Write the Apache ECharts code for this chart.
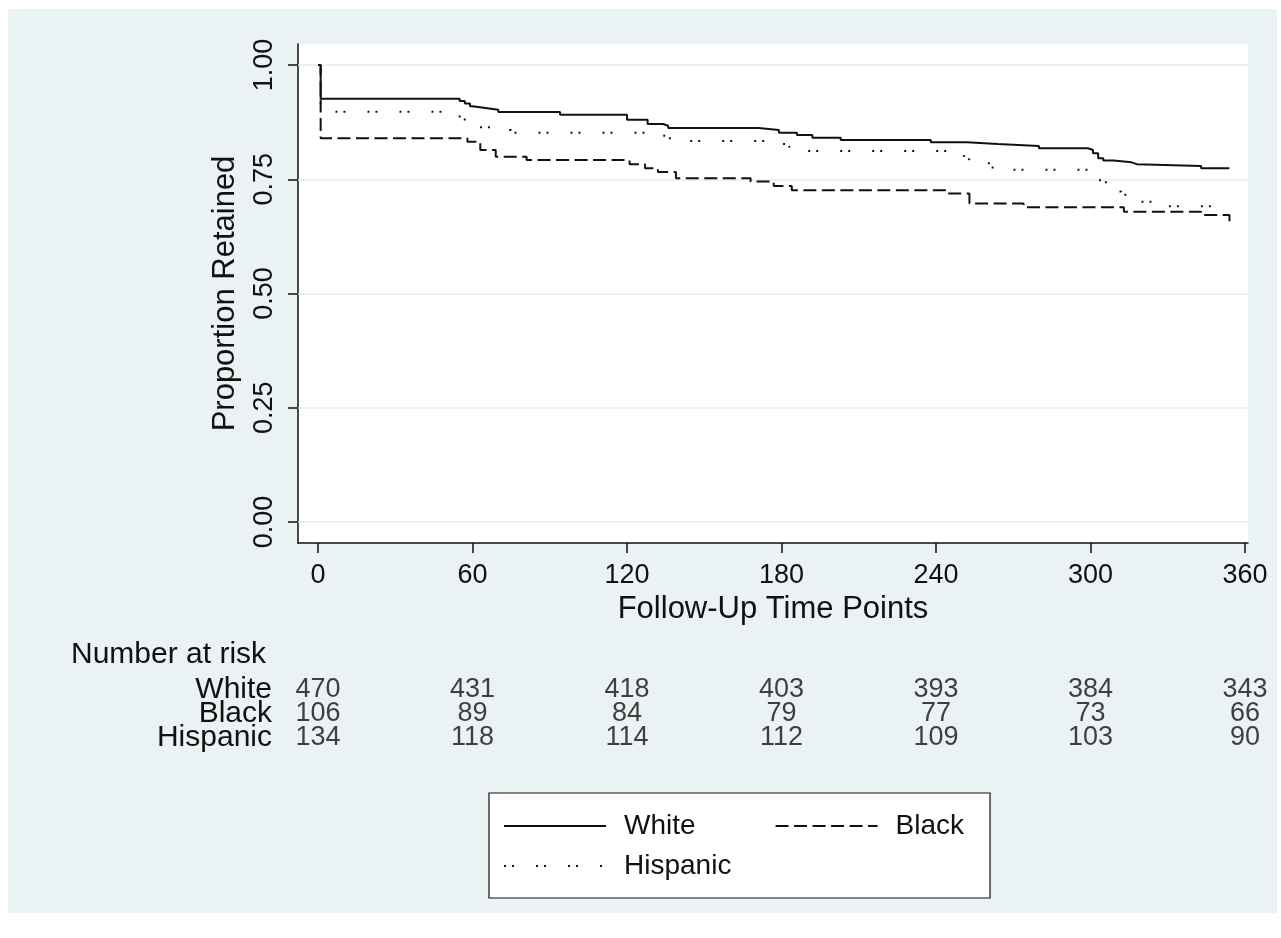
<!DOCTYPE html>
<html><head><meta charset="utf-8">
<script src="https://cdn.jsdelivr.net/npm/echarts@6/dist/echarts.min.js"></script>
<style>html,body{margin:0;padding:0;background:#fff}#c{width:1281px;height:938px}</style>
</head><body><div id="c"></div>
<script>
// ---- data ----
const timeTicks = [0, 60, 120, 180, 240, 300, 360];
const yTicks = [0, 0.25, 0.5, 0.75, 1];
const groupNames = ['White', 'Black', 'Hispanic'];

const whiteT = [0,1,55,57,59,60,65,70,94,120,128,134,136,171,179,186,192,203,238,252,264,280,299,301,303,305,309,316,318,343,354];
const whiteS = [1,.926,.921,.916,.910,.906,.902,.897,.891,.880,.871,.867,.862,.858,.852,.847,.841,.836,.831,.827,.823,.818,.814,.807,.796,.791,.787,.783,.779,.774,.774];

const blackT = [0,1,58,63,69,81,121,127,132,139,168,177,184,244,253,274,313,343,354];
const blackS = [1,.840,.832,.814,.799,.792,.783,.774,.766,.752,.745,.735,.726,.719,.697,.689,.679,.672,.646];

const hispT = [0,1,55,59,62,68,75,127,136,139,179,183,187,248,251,253,262,301,303,306,308,312,315,318,325,354];
const hispS = [1,.898,.881,.872,.864,.858,.852,.845,.840,.834,.827,.821,.812,.801,.794,.785,.771,.761,.748,.730,.723,.716,.710,.701,.691,.691];

const riskWhite = [470, 431, 418, 403, 393, 384, 343];
const riskBlack = [106, 89, 84, 79, 77, 73, 66];
const riskHisp = [134, 118, 114, 112, 109, 103, 90];

// ---- chart ----
const FONT = '"Liberation Sans", Arial, sans-serif';
const FS_TICK = 27, FS_TITLE = 31, FS_ROW = 30, FS_NUM = 27, FS_LEG = 28;
const INK = '#111';
const zip = (t, s) => t.map((v, i) => [v, s[i]]);
const riskRow = (name, arr) => timeTicks.map((t, i) => [t, name, arr[i]]);

const chart = echarts.init(document.getElementById('c'), null, {renderer: 'canvas'});

const xCommon = {min: -7.8, max: 361.2};
const lineSeries = (name, t, s, type) => ({
  name, type: 'line', step: 'end', data: zip(t, s), xAxisIndex: 0, yAxisIndex: 0,
  symbol: 'none', showSymbol: false, silent: true, z: 5,
  lineStyle: {color: '#111', width: 2, type}, itemStyle: {color: '#111'},
  emphasis: {disabled: true}, animation: false
});
const riskSeries = (name, arr) => ({
  name: 'risk-' + name, type: 'scatter', xAxisIndex: 1, yAxisIndex: 1,
  data: riskRow(name, arr), symbolSize: 1, itemStyle: {color: 'rgba(0,0,0,0)'},
  silent: true, animation: false,
  label: {show: true, position: 'inside', formatter: p => String(p.value[2]),
    color: INK, fontFamily: FONT, fontSize: FS_NUM}
});
const legendText = {fontFamily: FONT, fontSize: FS_LEG, color: INK, padding: [0, 0, 0, 13]};

chart.setOption({
  animation: false,
  textStyle: {fontFamily: FONT},
  graphic: [{type: 'rect', shape: {x: 8, y: 9, width: 1269, height: 904},
    style: {fill: '#eaf2f3'}, z: -100, silent: true}],
  title: {text: 'Number at risk', left: 66, top: 635,
    textStyle: {fontFamily: FONT, fontSize: FS_ROW, fontWeight: 'normal', color: INK}},
  grid: [
    {left: 298, top: 44, width: 950, height: 499, show: true,
     backgroundColor: '#fff', borderWidth: 0},
    {left: 298, top: 678, width: 950, height: 72}
  ],
  xAxis: [
    Object.assign({type: 'value', gridIndex: 0,
      name: 'Follow-Up Time Points', nameLocation: 'middle', nameGap: 51,
      nameTextStyle: {fontFamily: FONT, fontSize: FS_TITLE, color: INK},
      axisLine: {onZero: false, lineStyle: {color: INK, width: 1.5}},
      axisTick: {customValues: timeTicks, length: 10, lineStyle: {color: INK, width: 1.5}},
      axisLabel: {customValues: timeTicks, margin: 19, fontFamily: FONT, fontSize: FS_TICK, color: INK},
      splitLine: {show: false}}, xCommon),
    Object.assign({type: 'value', gridIndex: 1, show: false}, xCommon)
  ],
  yAxis: [
    {type: 'value', gridIndex: 0, min: -0.046, max: 1.046,
     name: 'Proportion Retained', nameLocation: 'middle', nameGap: 57,
     nameTextStyle: {fontFamily: FONT, fontSize: FS_TITLE, color: INK},
     axisLine: {show: true, onZero: false, lineStyle: {color: INK, width: 1.5}},
     axisTick: {show: true, customValues: yTicks, length: 10, lineStyle: {color: INK, width: 1.5}},
     axisLabel: {customValues: yTicks, rotate: 90, margin: 20, fontFamily: FONT, fontSize: FS_TICK, color: INK,
       formatter: v => v.toFixed(2)},
     splitLine: {show: false}},
    {type: 'category', gridIndex: 1, data: ['Hispanic', 'Black', 'White'],
     axisLine: {show: false}, axisTick: {show: false},
     axisLabel: {interval: 0, margin: 26, fontFamily: FONT, fontSize: FS_ROW, color: INK}}
  ],
  legend: [
    {data: ['White', 'Black'], left: 489, top: 793, orient: 'horizontal',
     itemWidth: 102, itemHeight: 28, itemGap: 79, selectedMode: false,
     itemStyle: {opacity: 0},
     padding: [19, 26, 58, 14], backgroundColor: '#fff', borderColor: INK, borderWidth: 1.2,
     textStyle: legendText},
    {data: ['Hispanic'], left: 503, top: 852, orient: 'horizontal',
     itemWidth: 102, itemHeight: 28, selectedMode: false, padding: 0, z: 10,
     itemStyle: {opacity: 0},
     textStyle: legendText}
  ],
  series: [
    {name: 'grid-lines', type: 'line', data: [], xAxisIndex: 0, yAxisIndex: 0, silent: true, z: 1,
     markLine: {silent: true, symbol: 'none', label: {show: false}, animation: false,
       lineStyle: {color: '#e3edef', width: 1.5, type: 'solid'},
       data: yTicks.map(v => ({yAxis: v}))}},
    lineSeries('White', whiteT, whiteS, 'solid'),
    lineSeries('Black', blackT, blackS, [13, 5.5]),
    lineSeries('Hispanic', hispT, hispS, [2, 6, 2, 22]),
    riskSeries('White', riskWhite),
    riskSeries('Black', riskBlack),
    riskSeries('Hispanic', riskHisp)
  ]
});
</script></body></html>
